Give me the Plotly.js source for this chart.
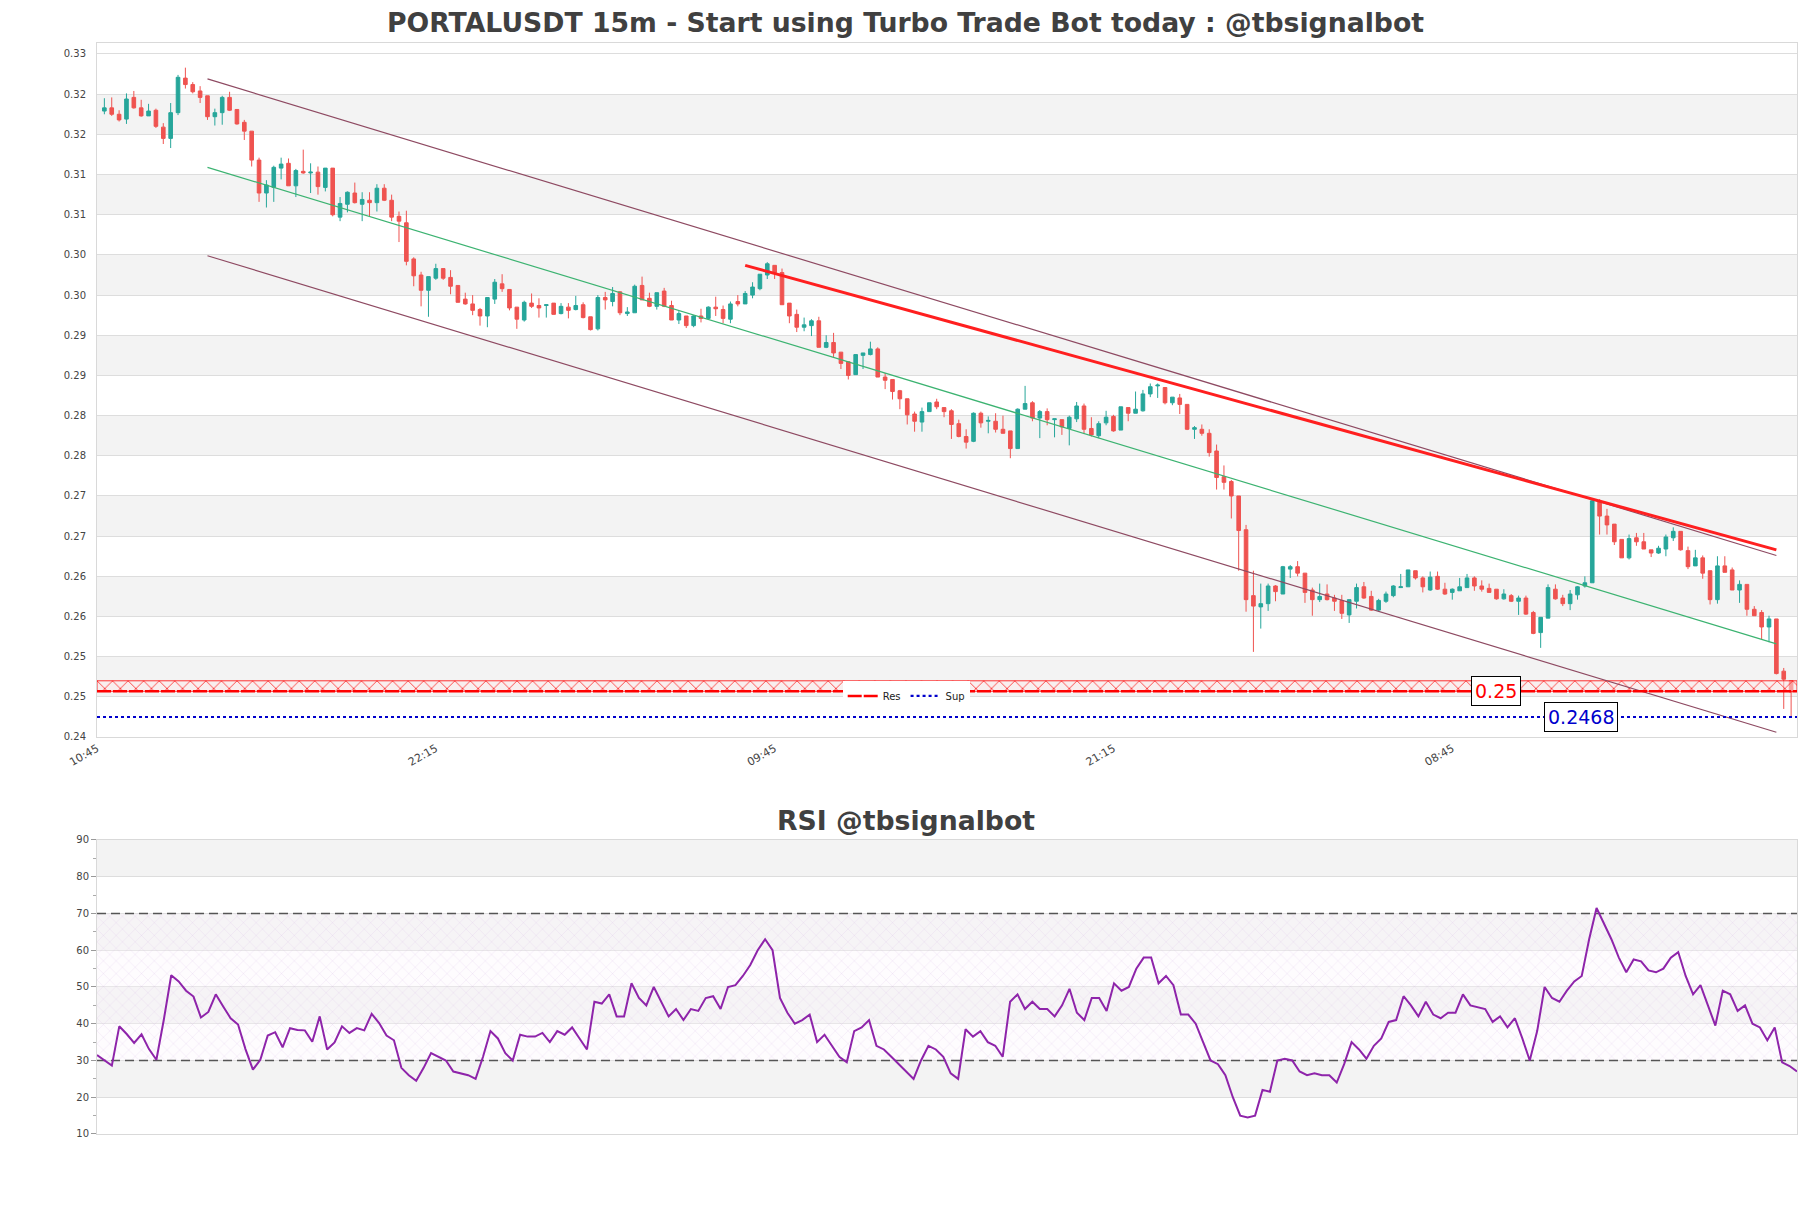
<!DOCTYPE html>
<html><head><meta charset="utf-8">
<script src="https://cdn.plot.ly/plotly-3.0.1.min.js"></script>
<style>html,body{margin:0;padding:0;background:#fff}</style>
</head><body><div id="chart" style="width:1811px;height:1208px"></div>
<script>
// ---------- data ----------
const firstBarUTC = Date.UTC(2024, 2, 10, 11, 0);   // first candle 11:00
const barMinutes = 15;

const openP = [.3222,.3226,.3218,.3212,.3239,.3226,.3216,.3223,.3202,.3188,.3220,.3263,.3255,.3247,.3241,.3215,.3220,.3239,.3224,.3208,
.3197,.3161,.3120,.3127,.3151,.3157,.3129,.3147,.3145,.3146,.3127,.3151,.3090,.3106,.3120,.3106,.3111,.3108,.3126,.3111,
.3091,.3083,.3038,.3018,.2999,.3014,.3026,.3015,.3005,.2988,.2982,.2975,.2967,.2988,.3007,.3000,.2978,.2962,.2983,.2980,
.2980,.2983,.2970,.2978,.2975,.2981,.2966,.2951,.2990,.2985,.2997,.2970,.2971,.3005,.2989,.2979,.2998,.2980,.2962,.2967,
.2955,.2967,.2964,.2978,.2975,.2963,.2985,.2982,.2993,.3001,.3018,.3030,.3021,.2983,.2969,.2953,.2955,.2961,.2928,.2934,
.2922,.2910,.2894,.2918,.2919,.2926,.2891,.2888,.2874,.2864,.2845,.2835,.2848,.2860,.2853,.2849,.2833,.2817,.2811,.2846,
.2836,.2836,.2826,.2824,.2802,.2851,.2859,.2840,.2848,.2838,.2838,.2827,.2839,.2855,.2827,.2818,.2834,.2842,.2825,.2853,
.2846,.2849,.2870,.2880,.2878,.2859,.2865,.2857,.2826,.2826,.2821,.2799,.2767,.2761,.2743,.2701,.2619,.2605,.2609,.2631,
.2621,.2652,.2655,.2647,.2626,.2614,.2621,.2616,.2613,.2595,.2612,.2630,.2618,.2601,.2612,.2619,.2629,.2630,.2650,.2641,
.2626,.2643,.2627,.2623,.2625,.2629,.2641,.2631,.2628,.2627,.2615,.2619,.2612,.2616,.2598,.2573,.2591,.2627,.2616,.2609,
.2620,.2631,.2635,.2736,.2718,.2708,.2689,.2666,.2691,.2686,.2676,.2672,.2677,.2691,.2699,.2675,.2656,.2666,.2650,.2614,
.2656,.2651,.2626,.2633,.2602,.2598,.2580,.2590,.2525,.2513];
const highP = [.3238,.3239,.3223,.3244,.3247,.3236,.3231,.3225,.3207,.3232,.3267,.3276,.3258,.3253,.3241,.3225,.3241,.3246,.3224,.3211,
.3197,.3164,.3136,.3154,.3164,.3163,.3150,.3174,.3157,.3153,.3151,.3151,.3115,.3122,.3133,.3121,.3121,.3131,.3131,.3118,
.3097,.3098,.3040,.3022,.3016,.3032,.3026,.3024,.3005,.2996,.2993,.2977,.2990,.3013,.3019,.3000,.2978,.2986,.2995,.2989,
.2981,.2983,.2983,.2983,.2992,.2984,.2966,.2993,.2997,.3003,.2998,.2978,.3006,.3016,.2996,.2996,.3002,.2986,.2973,.2967,
.2968,.2976,.2979,.2991,.2980,.2985,.2993,.2998,.3009,.3019,.3034,.3030,.3026,.2983,.2975,.2965,.2963,.2966,.2943,.2946,
.2922,.2910,.2919,.2921,.2935,.2928,.2896,.2888,.2875,.2864,.2848,.2853,.2859,.2864,.2853,.2851,.2838,.2826,.2847,.2848,
.2842,.2846,.2843,.2824,.2852,.2880,.2861,.2850,.2852,.2839,.2838,.2843,.2860,.2858,.2841,.2836,.2849,.2844,.2854,.2853,
.2873,.2875,.2883,.2883,.2878,.2866,.2870,.2857,.2830,.2832,.2826,.2807,.2781,.2763,.2743,.2707,.2650,.2634,.2634,.2632,
.2656,.2657,.2662,.2647,.2629,.2634,.2633,.2620,.2620,.2614,.2634,.2636,.2625,.2615,.2624,.2632,.2646,.2651,.2650,.2643,
.2649,.2649,.2635,.2628,.2641,.2646,.2643,.2638,.2634,.2627,.2627,.2621,.2619,.2619,.2600,.2592,.2633,.2633,.2620,.2626,
.2631,.2643,.2739,.2739,.2727,.2708,.2689,.2695,.2697,.2697,.2676,.2681,.2695,.2704,.2699,.2680,.2676,.2669,.2650,.2668,
.2668,.2654,.2638,.2633,.2606,.2601,.2594,.2590,.2529,.2513];
const lowP = [.3218,.3216,.3209,.3206,.3225,.3215,.3216,.3201,.3181,.3176,.3217,.3250,.3244,.3232,.3211,.3204,.3205,.3222,.3205,.3186,
.3153,.3109,.3102,.3109,.3137,.3129,.3115,.3144,.3120,.3118,.3122,.3091,.3085,.3096,.3107,.3085,.3091,.3097,.3110,.3085,
.3059,.3030,.3004,.2979,.2966,.3012,.3012,.2994,.2984,.2981,.2968,.2955,.2953,.2982,.2997,.2974,.2951,.2960,.2977,.2965,
.2965,.2969,.2969,.2964,.2974,.2964,.2949,.2949,.2975,.2979,.2968,.2967,.2971,.2987,.2978,.2975,.2978,.2962,.2957,.2952,
.2953,.2959,.2963,.2967,.2958,.2958,.2979,.2982,.2989,.2999,.3013,.3013,.2981,.2958,.2947,.2948,.2942,.2928,.2927,.2916,
.2901,.2888,.2894,.2901,.2918,.2891,.2876,.2863,.2851,.2832,.2823,.2823,.2848,.2851,.2841,.2814,.2816,.2802,.2810,.2828,
.2821,.2822,.2821,.2790,.2802,.2851,.2836,.2815,.2831,.2816,.2819,.2806,.2835,.2821,.2817,.2815,.2831,.2823,.2825,.2836,
.2846,.2848,.2866,.2865,.2857,.2856,.2845,.2825,.2814,.2818,.2792,.2751,.2751,.2715,.2650,.2599,.2549,.2578,.2600,.2612,
.2621,.2641,.2643,.2610,.2594,.2611,.2613,.2600,.2590,.2585,.2603,.2615,.2600,.2599,.2610,.2617,.2629,.2630,.2639,.2623,
.2625,.2626,.2620,.2614,.2625,.2629,.2625,.2624,.2623,.2614,.2614,.2611,.2595,.2595,.2571,.2554,.2591,.2614,.2606,.2601,
.2614,.2629,.2635,.2695,.2695,.2682,.2666,.2664,.2681,.2677,.2667,.2671,.2668,.2687,.2675,.2652,.2656,.2640,.2608,.2609,
.2648,.2626,.2610,.2594,.2594,.2565,.2561,.2521,.2478,.2469];
const closeP = [.3226,.3218,.3211,.3237,.3226,.3216,.3222,.3203,.3188,.3220,.3264,.3255,.3246,.3239,.3215,.3220,.3239,.3223,.3206,.3197,
.3161,.3120,.3130,.3152,.3156,.3129,.3148,.3145,.3146,.3128,.3151,.3093,.3107,.3121,.3108,.3112,.3108,.3126,.3111,.3090,
.3085,.3035,.3017,.2999,.3016,.3026,.3014,.3004,.2984,.2982,.2974,.2967,.2990,.3009,.3001,.2977,.2963,.2984,.2979,.2977,
.2981,.2969,.2979,.2974,.2980,.2965,.2950,.2990,.2987,.2995,.2971,.2972,.3004,.2987,.2979,.2996,.2979,.2962,.2970,.2955,
.2967,.2964,.2978,.2976,.2964,.2982,.2982,.2995,.3003,.3019,.3032,.3021,.2981,.2967,.2953,.2956,.2961,.2928,.2934,.2921,
.2908,.2893,.2919,.2921,.2926,.2891,.2887,.2873,.2864,.2844,.2836,.2848,.2859,.2854,.2848,.2832,.2817,.2810,.2846,.2834,
.2837,.2826,.2821,.2802,.2851,.2858,.2840,.2848,.2838,.2839,.2829,.2841,.2855,.2826,.2819,.2833,.2841,.2824,.2854,.2846,
.2851,.2870,.2879,.2881,.2859,.2866,.2857,.2826,.2828,.2821,.2797,.2766,.2760,.2743,.2700,.2614,.2606,.2609,.2631,.2624,
.2655,.2655,.2647,.2623,.2614,.2618,.2614,.2612,.2597,.2614,.2629,.2616,.2601,.2613,.2621,.2631,.2630,.2651,.2641,.2630,
.2642,.2627,.2621,.2627,.2630,.2641,.2631,.2627,.2623,.2615,.2621,.2612,.2616,.2596,.2572,.2592,.2629,.2615,.2609,.2621,
.2630,.2635,.2737,.2718,.2707,.2686,.2666,.2690,.2686,.2677,.2672,.2678,.2692,.2699,.2676,.2655,.2666,.2647,.2614,.2656,
.2648,.2626,.2633,.2602,.2594,.2580,.2590,.2522,.2515,.2499];

const rsiValues = [31.5,30,28.6,39.3,37.2,34.8,37.1,33.1,30.2,41.1,53.2,51.5,49.0,47.4,41.7,43.2,48.0,44.7,41.5,39.8,
33.1,27.5,30.2,36.8,37.7,33.6,38.8,38.3,38.2,35.1,42.0,33.0,34.9,39.3,37.5,38.8,38.2,42.7,40.2,36.8,
35.5,28,26,24.5,28,32,31,30,27,26.5,26,25,31,38,36,32,30,37,36.5,36.5,
37.5,35,38,37,39,36,33,46,45.5,48,42,42,51,47,45,50,46,42,44,41,
44,43.5,47,47.5,44,50,50.5,53,56,60,63,60,47,43,40,41,42.5,35,37,34,
31,29.5,38,39,41,34,33,31,29,27,25,30,34,33,31,26.5,25,38.5,36.5,38,
35,34,31,46,48,44,46,44,44,42,45,49.5,43,41,47,47,43.5,51,49,50,
55,58,58,51,53,50.5,42.5,42.5,40,35,30,29,26,20,15,14.5,15,22,21.5,30,
30.5,30,27,26,26.5,26,26,24,29,35,33,30.5,34,36,40.5,41,47.5,45,42,46,
42.5,41.5,43,43,48,45,44.5,44,40.5,42,39,41.5,36,30,38,50,47,46,49,51.5,
53,63,71.5,67,63,58,54,57.5,57,54.5,54,55,58,59.5,53,48,50.5,45,39.5,49,
48,43.5,45,40,39,35.5,39,29.5,28.5,27];

// regression channel and resistance trend line: [start bar, end bar] and prices
const channelBars = [14, 227];
const channelUpper = [0.3262, 0.2669];
const channelMid = [0.3152, 0.2559];
const channelLower = [0.3042, 0.2449];
const resTrendBars = [87, 227];
const resTrendPrices = [0.3030, 0.2676];

const resLevel = 0.2500;
const resZoneTop = 0.2513;
const supLevel = 0.2468;
const resLabel = '0.25';
const supLabel = '0.2468';

const xTickVals = ['2024-03-10 10:45','2024-03-10 22:15','2024-03-11 09:45','2024-03-11 21:15','2024-03-12 08:45'];
const xTickText = ['10:45','22:15','09:45','21:15','08:45'];
const priceTick0 = 0.24431, priceTickStep = 0.005;
const priceRange = [0.24431, 0.33067];
const rsiTickVals = [10,20,30,40,50,60,70,80,90];

// ---------- build ----------
function barTime(i){ const t = firstBarUTC + i*barMinutes*60000; return new Date(t).toISOString().slice(0,19).replace('T',' '); }
const times = openP.map((_, i) => barTime(i));
const xStart = barTime(-1);
const xEnd = new Date(firstBarUTC + (openP.length - 1 + 0.8)*barMinutes*60000).toISOString().slice(0,19).replace('T',' ');

const green = '#26a69a', red = '#ef5350';
const traces = [];

// res hatched zone
traces.push({x:[xStart,xEnd,xEnd,xStart,xStart], y:[resLevel,resLevel,resZoneTop,resZoneTop,resLevel], type:'scatter', mode:'lines',
  fill:'toself', fillcolor:'rgba(255,255,255,0)', line:{color:'rgba(255,0,0,0.9)', width:0.9},
  fillpattern:{shape:'x', fgcolor:'#ff0000', bgcolor:'rgba(255,235,235,0.5)', size:11, solidity:0.12},
  showlegend:false, hoverinfo:'skip', xaxis:'x', yaxis:'y'});

traces.push({type:'candlestick', x:times, open:openP, high:highP, low:lowP, close:closeP,
  increasing:{line:{color:green, width:1}, fillcolor:green},
  decreasing:{line:{color:red, width:1}, fillcolor:red},
  whiskerwidth:0, showlegend:false, xaxis:'x', yaxis:'y'});

const chanColor = '#8e4a62';
traces.push({x:[times[channelBars[0]], times[channelBars[1]]], y:channelUpper, mode:'lines', line:{color:chanColor, width:1.2}, showlegend:false, hoverinfo:'skip'});
traces.push({x:[times[channelBars[0]], times[channelBars[1]]], y:channelLower, mode:'lines', line:{color:chanColor, width:1.2}, showlegend:false, hoverinfo:'skip'});
traces.push({x:[times[channelBars[0]], times[channelBars[1]]], y:channelMid, mode:'lines', line:{color:'#3cb371', width:1.2}, showlegend:false, hoverinfo:'skip'});
traces.push({x:[times[resTrendBars[0]], times[resTrendBars[1]]], y:resTrendPrices, mode:'lines', line:{color:'#ff1f1f', width:3}, showlegend:false, hoverinfo:'skip'});

traces.push({x:[xStart,xEnd], y:[resLevel,resLevel], mode:'lines', name:'Res', line:{color:'#ff0000', width:2.5, dash:'14px,2px'}, hoverinfo:'skip'});
traces.push({x:[xStart,xEnd], y:[supLevel,supLevel], mode:'lines', name:'Sup', line:{color:'#0000cc', width:2.2, dash:'dot'}, hoverinfo:'skip'});

// RSI hatch zone 30-70
traces.push({x:[times[0],times[times.length-1],times[times.length-1],times[0],times[0]], y:[30,30,70,70,30], type:'scatter', mode:'lines',
  fill:'toself', fillcolor:'rgba(255,255,255,0)', line:{width:0},
  fillpattern:{shape:'x', fgcolor:'rgba(200,165,220,0.6)', bgcolor:'rgba(250,245,252,0.35)', size:9, solidity:0.06},
  showlegend:false, hoverinfo:'skip', xaxis:'x2', yaxis:'y2'});
traces.push({x:[times[0],times[times.length-1]], y:[70,70], mode:'lines', line:{color:'#555', width:1.4, dash:'9px,5px'}, showlegend:false, hoverinfo:'skip', xaxis:'x2', yaxis:'y2'});
traces.push({x:[times[0],times[times.length-1]], y:[30,30], mode:'lines', line:{color:'#555', width:1.4, dash:'9px,5px'}, showlegend:false, hoverinfo:'skip', xaxis:'x2', yaxis:'y2'});
traces.push({x:times, y:rsiValues, mode:'lines', line:{color:'#8e24aa', width:2}, showlegend:false, xaxis:'x2', yaxis:'y2'});

// gray bands
const shapes = [];
for (let k = 1; k <= 15; k += 2) {
  shapes.push({type:'rect', xref:'paper', yref:'y', x0:0, x1:1, y0:priceTick0 + k*priceTickStep, y1:priceTick0 + (k+1)*priceTickStep,
    fillcolor:'#f3f3f3', line:{width:0}, layer:'below'});
}
[[20,30],[40,50],[60,70],[80,90]].forEach(b => shapes.push({type:'rect', xref:'paper', yref:'y2', x0:0, x1:1, y0:b[0], y1:b[1], fillcolor:'#f3f3f3', line:{width:0}, layer:'below'}));

const tickFont = {family:'DejaVu Sans', size:10, color:'#444'};
const layout = {
  width:1811, height:1208,
  paper_bgcolor:'#fff', plot_bgcolor:'#fff',
  margin:{l:97, r:14, t:43, b:74},
  title:{text:'PORTALUSDT 15m - Start using Turbo Trade Bot today : @tbsignalbot', x:0.5, xref:'container', y:0.981, yref:'container', yanchor:'middle',
    font:{family:'DejaVu Sans', size:26.7, color:'#404040', weight:'bold'}},
  showlegend:true,
  legend:{orientation:'h', x:0.476, xanchor:'center', y:0.4015, yanchor:'middle', bgcolor:'#ffffff', font:{family:'DejaVu Sans', size:10, color:'#222'}, itemwidth:30},
  xaxis:{type:'date', domain:[0,1], range:[xStart, xEnd], anchor:'y', rangeslider:{visible:false}, showgrid:false,
    tickvals:xTickVals, ticktext:xTickText, tickangle:-30, tickfont:{family:'DejaVu Sans', size:11, color:'#444'}, ticks:'', showline:true, mirror:true, linecolor:'#d9d9d9', linewidth:1, zeroline:false},
  yaxis:{domain:[0.3639,1], range:priceRange, tick0:priceTick0, dtick:priceTickStep, tickformat:'.2f', tickfont:tickFont,
    showgrid:true, gridcolor:'#dddddd', gridwidth:1, ticks:'', ticklabelstandoff:8, showline:true, mirror:true, linecolor:'#d9d9d9', zeroline:false, fixedrange:true},
  xaxis2:{type:'date', domain:[0,1], range:[times[0], times[times.length-1]], anchor:'y2', showgrid:false, showticklabels:false, ticks:'',
    showline:true, mirror:true, linecolor:'#d9d9d9', zeroline:false},
  yaxis2:{domain:[0,0.2695], range:[10,90], tickvals:rsiTickVals, tickfont:tickFont, showgrid:true, gridcolor:'#dddddd',
    ticks:'outside', ticklen:5, tickcolor:'#999', minor:{dtick:5, ticks:'outside', ticklen:3, tickcolor:'#aaa', showgrid:false},
    showline:true, mirror:true, linecolor:'#d9d9d9', zeroline:false},
  shapes:shapes,
  annotations:[
    {text:'RSI @tbsignalbot', xref:'paper', yref:'paper', x:0.4756, y:0.2878, xanchor:'center', yanchor:'middle', showarrow:false,
      font:{family:'DejaVu Sans', size:26.7, color:'#404040', weight:'bold'}},
    {text:resLabel, xref:'paper', yref:'y', x:0.8228, y:resLevel, xanchor:'center', yanchor:'middle', showarrow:false,
      font:{family:'DejaVu Sans', size:19, color:'#ff0000'}, bgcolor:'#fff', bordercolor:'#000', borderwidth:1, borderpad:3},
    {text:supLabel, xref:'paper', yref:'y', x:0.8732, y:supLevel, xanchor:'center', yanchor:'middle', showarrow:false,
      font:{family:'DejaVu Sans', size:19, color:'#0000cc'}, bgcolor:'#fff', bordercolor:'#000', borderwidth:1, borderpad:3}
  ]
};
Plotly.newPlot('chart', traces, layout, {displayModeBar:false, staticPlot:true});
</script></body></html>
